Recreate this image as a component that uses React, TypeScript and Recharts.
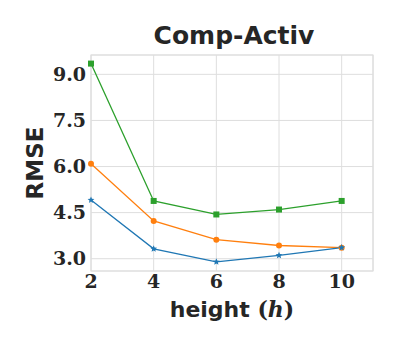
import React from 'react';
import { LineChart, Line, XAxis, YAxis, CartesianGrid, ReferenceArea, Label } from 'recharts';

const heights = [2, 4, 6, 8, 10];
const greenSeries = [9.35, 4.88, 4.44, 4.6, 4.88];
const orangeSeries = [6.09, 4.23, 3.62, 3.43, 3.36];
const blueSeries = [4.91, 3.32, 2.9, 3.11, 3.36];
const yTicks = [3.0, 4.5, 6.0, 7.5, 9.0];
const xTicks = [2, 4, 6, 8, 10];

const data = heights.map((h, i) => ({
  h,
  green: greenSeries[i],
  orange: orangeSeries[i],
  blue: blueSeries[i],
}));

const sans = '"DejaVu Sans", sans-serif';
const serif = '"DejaVu Serif", serif';
const gridColor = '#dedede';
const tickStyle = { fontFamily: serif, fontWeight: 'bold', fontSize: 19, fill: '#262626' };

const Square = (props: any) => {
  const { cx, cy, stroke } = props;
  return <rect x={cx - 3} y={cy - 3} width={6} height={6} fill={stroke} />;
};

const Star = (props: any) => {
  const { cx, cy, stroke } = props;
  const pts: string[] = [];
  for (let k = 0; k < 10; k++) {
    const r = k % 2 === 0 ? 3.6 : 1.6;
    const a = -Math.PI / 2 + (k * Math.PI) / 5;
    pts.push(`${cx + r * Math.cos(a)},${cy + r * Math.sin(a)}`);
  }
  return <polygon points={pts.join(' ')} fill={stroke} />;
};

const Dot = (props: any) => {
  const { cx, cy, stroke } = props;
  return <circle cx={cx} cy={cy} r={3} fill={stroke} />;
};

export default function App() {
  return (
    <div style={{ position: 'absolute', left: 0, top: 0, width: 400, height: 350, background: '#fff' }}>
      <div
        style={{
          position: 'absolute',
          left: 0,
          width: 468,
          top: 20,
          textAlign: 'center',
          fontFamily: sans,
          fontWeight: 'bold',
          fontSize: 25,
          color: '#262626',
          lineHeight: '32px',
        }}
      >
        Comp-Activ
      </div>
      <LineChart width={400} height={350} data={data} margin={{ top: 55, right: 27, bottom: 0, left: 0 }}>
        <CartesianGrid stroke={gridColor} strokeWidth={1} />
        <ReferenceArea x1={2} x2={11} y1={2.6} y2={9.63} fill="none" stroke={gridColor} strokeWidth={1.2} ifOverflow="visible" />
        <XAxis
          dataKey="h"
          type="number"
          domain={[2, 11]}
          ticks={xTicks}
          height={79}
          axisLine={false}
          tickLine={false}
          tickSize={0}
          tickMargin={4}
          tick={tickStyle}
        >
          <Label
            content={(p: any) => {
              const vb = p.viewBox;
              return (
                <text x={vb.x + vb.width / 2} y={vb.y + 46} textAnchor="middle" fill="#262626" fontSize={22}>
                  <tspan fontFamily={sans} fontWeight="bold">height </tspan>
                  <tspan fontFamily={serif} fontWeight="bold">(</tspan>
                  <tspan fontFamily={serif} fontStyle="italic" fontWeight="bold">h</tspan>
                  <tspan fontFamily={serif} fontWeight="bold">)</tspan>
                </text>
              );
            }}
          />
        </XAxis>
        <YAxis
          type="number"
          domain={[2.6, 9.63]}
          ticks={yTicks}
          width={91}
          axisLine={false}
          tickLine={false}
          tickSize={0}
          tickMargin={5}
          tickFormatter={(v: number) => v.toFixed(1)}
          tick={tickStyle}
        >
          <Label
            content={(p: any) => {
              const vb = p.viewBox;
              const cy = vb.y + vb.height / 2;
              return (
                <text
                  x={43}
                  y={cy}
                  transform={`rotate(-90 43 ${cy})`}
                  textAnchor="middle"
                  fontFamily={sans}
                  fontWeight="bold"
                  fontSize={23}
                  fill="#262626"
                >
                  RMSE
                </text>
              );
            }}
          />
        </YAxis>
        <Line dataKey="green" stroke="#2ca02c" strokeWidth={1.3} dot={<Square />} isAnimationActive={false} />
        <Line dataKey="orange" stroke="#ff7f0e" strokeWidth={1.3} dot={<Dot />} isAnimationActive={false} />
        <Line dataKey="blue" stroke="#1f77b4" strokeWidth={1.3} dot={<Star />} isAnimationActive={false} />
      </LineChart>
    </div>
  );
}
